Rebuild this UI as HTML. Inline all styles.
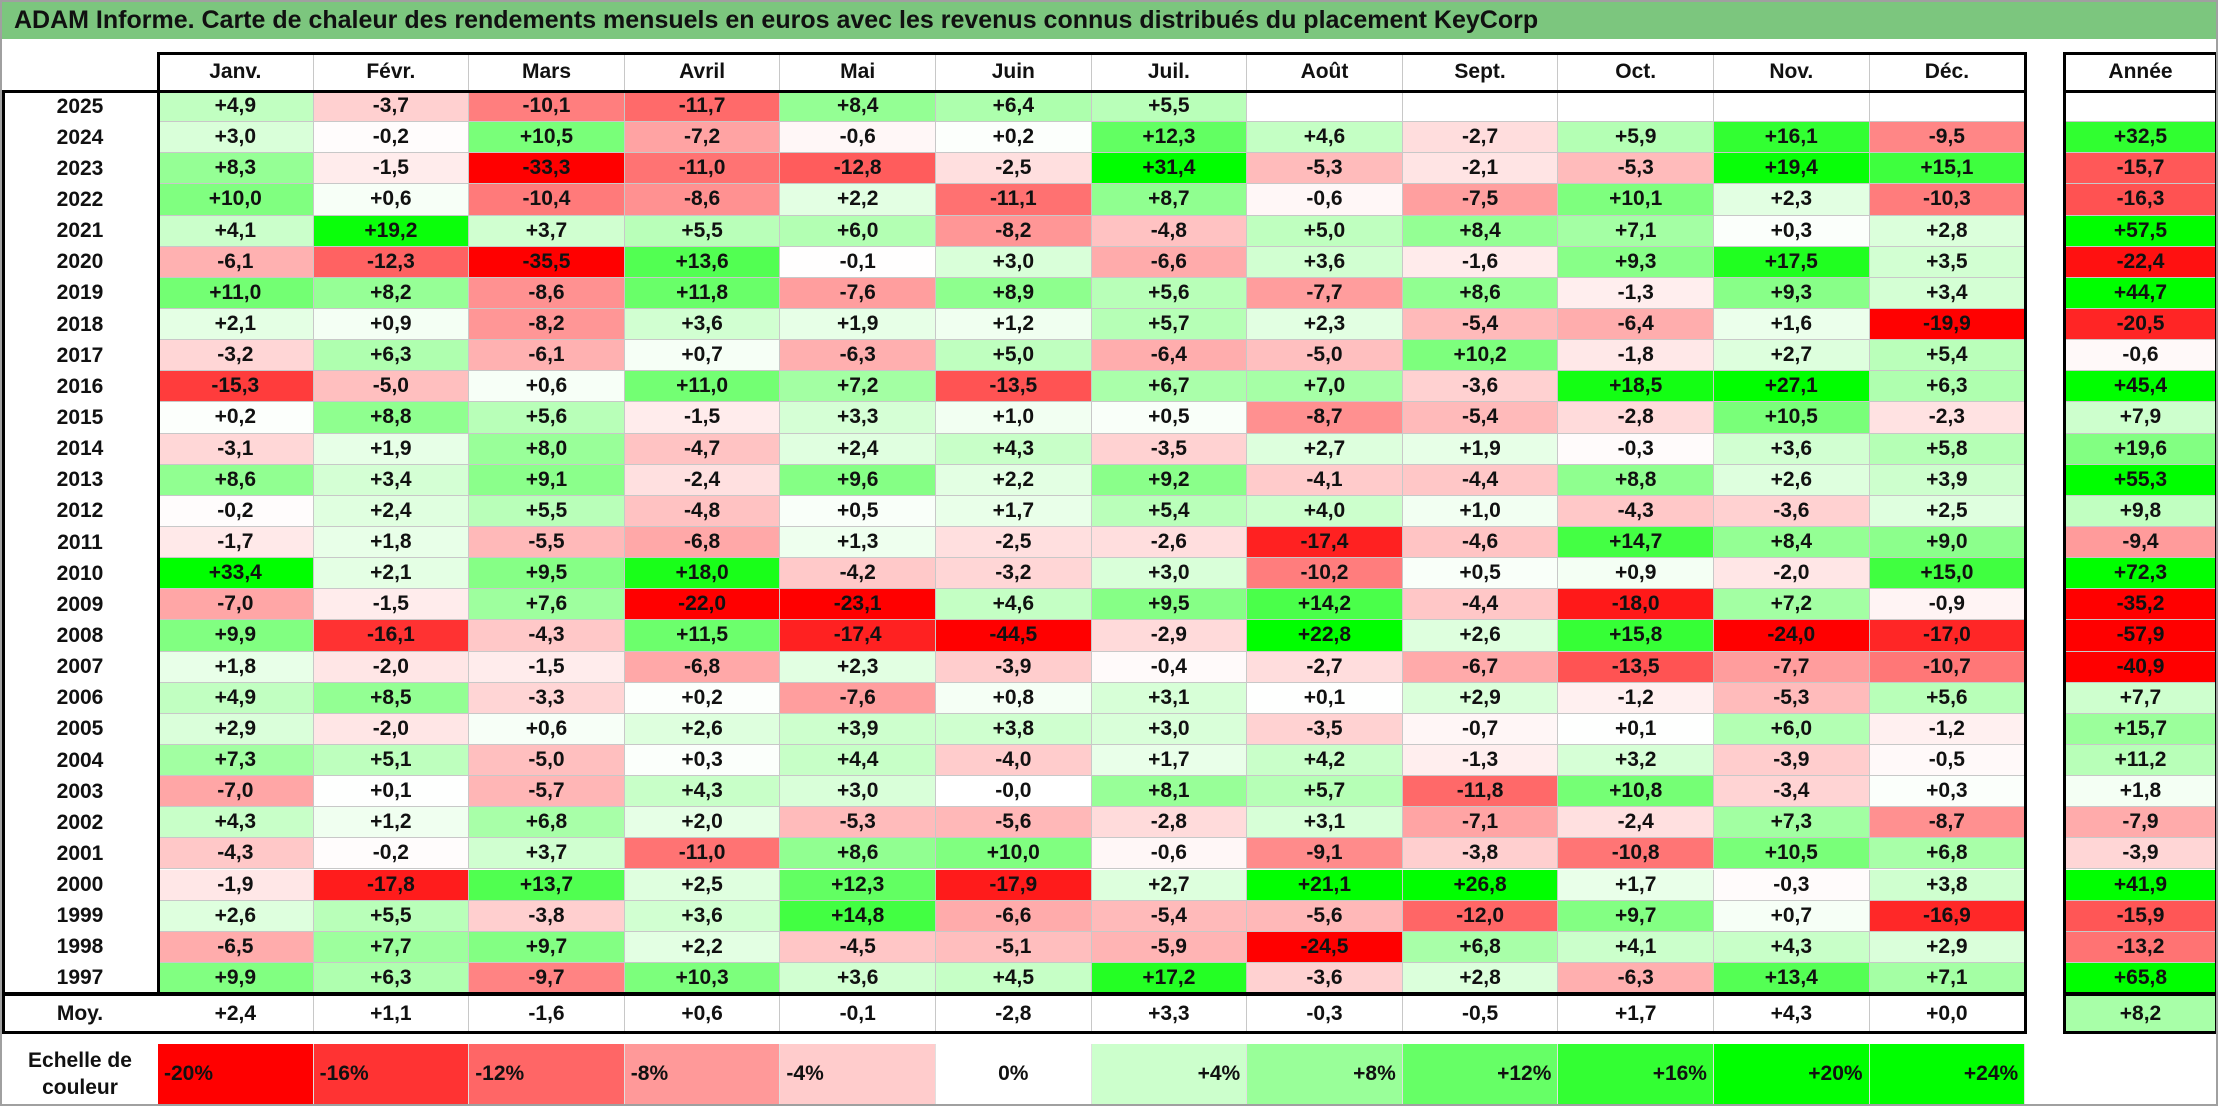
<!DOCTYPE html>
<html><head><meta charset="utf-8">
<style>
body{margin:0;background:#fff;}
#root{position:relative;width:2218px;height:1106px;overflow:hidden;font-family:"Liberation Sans",sans-serif;font-weight:bold;background:#fff;box-sizing:border-box;border:2px solid #a0a0a0;}
.c{position:absolute;box-sizing:border-box;display:flex;align-items:center;justify-content:center;font-size:21px;color:#111;}
#title{position:absolute;left:0;top:0;width:2214px;height:37px;background:#7cc67e;font-size:25px;line-height:37px;padding-left:12px;box-sizing:border-box;color:#111;}
</style></head><body>
<div id="root">
<div id="title">ADAM Informe. Carte de chaleur des rendements mensuels en euros avec les revenus connus distribués du placement KeyCorp</div>
</div>
<script>
const months=["Janv.","Févr.","Mars","Avril","Mai","Juin","Juil.","Août","Sept.","Oct.","Nov.","Déc."];
const years=[2025,2024,2023,2022,2021,2020,2019,2018,2017,2016,2015,2014,2013,2012,2011,2010,2009,2008,2007,2006,2005,2004,2003,2002,2001,2000,1999,1998,1997];
const monthly=[
[4.9,-3.7,-10.1,-11.7,8.4,6.4,5.5,null,null,null,null,null],
[3.0,-0.2,10.5,-7.2,-0.6,0.2,12.3,4.6,-2.7,5.9,16.1,-9.5],
[8.3,-1.5,-33.3,-11.0,-12.8,-2.5,31.4,-5.3,-2.1,-5.3,19.4,15.1],
[10.0,0.6,-10.4,-8.6,2.2,-11.1,8.7,-0.6,-7.5,10.1,2.3,-10.3],
[4.1,19.2,3.7,5.5,6.0,-8.2,-4.8,5.0,8.4,7.1,0.3,2.8],
[-6.1,-12.3,-35.5,13.6,-0.1,3.0,-6.6,3.6,-1.6,9.3,17.5,3.5],
[11.0,8.2,-8.6,11.8,-7.6,8.9,5.6,-7.7,8.6,-1.3,9.3,3.4],
[2.1,0.9,-8.2,3.6,1.9,1.2,5.7,2.3,-5.4,-6.4,1.6,-19.9],
[-3.2,6.3,-6.1,0.7,-6.3,5.0,-6.4,-5.0,10.2,-1.8,2.7,5.4],
[-15.3,-5.0,0.6,11.0,7.2,-13.5,6.7,7.0,-3.6,18.5,27.1,6.3],
[0.2,8.8,5.6,-1.5,3.3,1.0,0.5,-8.7,-5.4,-2.8,10.5,-2.3],
[-3.1,1.9,8.0,-4.7,2.4,4.3,-3.5,2.7,1.9,-0.3,3.6,5.8],
[8.6,3.4,9.1,-2.4,9.6,2.2,9.2,-4.1,-4.4,8.8,2.6,3.9],
[-0.2,2.4,5.5,-4.8,0.5,1.7,5.4,4.0,1.0,-4.3,-3.6,2.5],
[-1.7,1.8,-5.5,-6.8,1.3,-2.5,-2.6,-17.4,-4.6,14.7,8.4,9.0],
[33.4,2.1,9.5,18.0,-4.2,-3.2,3.0,-10.2,0.5,0.9,-2.0,15.0],
[-7.0,-1.5,7.6,-22.0,-23.1,4.6,9.5,14.2,-4.4,-18.0,7.2,-0.9],
[9.9,-16.1,-4.3,11.5,-17.4,-44.5,-2.9,22.8,2.6,15.8,-24.0,-17.0],
[1.8,-2.0,-1.5,-6.8,2.3,-3.9,-0.4,-2.7,-6.7,-13.5,-7.7,-10.7],
[4.9,8.5,-3.3,0.2,-7.6,0.8,3.1,0.1,2.9,-1.2,-5.3,5.6],
[2.9,-2.0,0.6,2.6,3.9,3.8,3.0,-3.5,-0.7,0.1,6.0,-1.2],
[7.3,5.1,-5.0,0.3,4.4,-4.0,1.7,4.2,-1.3,3.2,-3.9,-0.5],
[-7.0,0.1,-5.7,4.3,3.0,-0.0,8.1,5.7,-11.8,10.8,-3.4,0.3],
[4.3,1.2,6.8,2.0,-5.3,-5.6,-2.8,3.1,-7.1,-2.4,7.3,-8.7],
[-4.3,-0.2,3.7,-11.0,8.6,10.0,-0.6,-9.1,-3.8,-10.8,10.5,6.8],
[-1.9,-17.8,13.7,2.5,12.3,-17.9,2.7,21.1,26.8,1.7,-0.3,3.8],
[2.6,5.5,-3.8,3.6,14.8,-6.6,-5.4,-5.6,-12.0,9.7,0.7,-16.9],
[-6.5,7.7,9.7,2.2,-4.5,-5.1,-5.9,-24.5,6.8,4.1,4.3,2.9],
[9.9,6.3,-9.7,10.3,3.6,4.5,17.2,-3.6,2.8,-6.3,13.4,7.1]];
const annual=[null,32.5,-15.7,-16.3,57.5,-22.4,44.7,-20.5,-0.6,45.4,7.9,19.6,55.3,9.8,-9.4,72.3,-35.2,-57.9,-40.9,7.7,15.7,11.2,1.8,-7.9,-3.9,41.9,-15.9,-13.2,65.8];
const averages=[2.4,1.1,-1.6,0.6,-0.1,-2.8,3.3,-0.3,-0.5,1.7,4.3,0.0];
const averageYear=8.2;
const scaleTicks=[-20,-16,-12,-8,-4,0,4,8,12,16,20,24];

const root=document.getElementById('root');
const X0=156,CW=155.6,AX=2061,AW=155,HT=50,RT=89,RH=31.14,MT=992,MB=1031,ST=1042,SB=1102;
function col(v,neg,pos){
  if(v===null)return '#ffffff';
  let t;
  if(v<0){t=Math.min(1,-v/neg);const g=Math.round(255*(1-t));return `rgb(255,${g},${g})`;}
  t=Math.min(1,v/pos);const r=Math.round(255*(1-t));return `rgb(${r},255,${r})`;
}
function fmt(v){
  if(v===null)return '';
  const s=Math.abs(v).toFixed(1).replace('.',',');
  return (v<0||Object.is(v,-0)?'-':'+')+s;
}
function cell(x,y,w,h,txt,bg,name,extra){
  const d=document.createElement('div');
  d.className='c';
  d.style.left=x+'px';d.style.top=y+'px';d.style.width=w+'px';d.style.height=h+'px';
  d.style.background=bg;
  if(extra)Object.assign(d.style,extra);
  d.textContent=txt;
  
  
  root.appendChild(d);
  return d;
}
const grid={borderRight:'1px solid #c8c8c8',borderBottom:'1px solid #c8c8c8'};
months.forEach((m,i)=>{
  cell(X0+i*CW,HT,CW,RT-HT,m,'#fff','month-header',{borderRight:'1px solid #c8c8c8'});
});
cell(AX,HT,AW,RT-HT,'Année','#fff','year-total-header');
years.forEach((y,r)=>{
  const top=RT+r*RH;
  cell(0,top,X0,RH,String(y),'#fff','year-label');
  monthly[r].forEach((v,i)=>{
    cell(X0+i*CW,top,CW,RH,fmt(v),col(v,20,20),'heatmap-cell',grid);
  });
  cell(AX,top,AW,RH,fmt(annual[r]),col(annual[r],24,40),'annual-cell',{borderBottom:'1px solid #c8c8c8'});
});
cell(0,MT,X0,MB-MT,'Moy.','#fff','average-label');
averages.forEach((v,i)=>{
  cell(X0+i*CW,MT,CW,MB-MT,fmt(v),'#fff','average-cell',{borderRight:'1px solid #c8c8c8'});
});
cell(AX,MT,AW,MB-MT,fmt(averageYear),col(averageYear,24,24),'average-year-cell');
const lab=cell(0,ST,X0,SB-ST,'','#fff','color-scale-label',{flexDirection:'column',fontSize:'21px',lineHeight:'27px'});
lab.innerHTML='<span>Echelle de</span><span>couleur</span>';
scaleTicks.forEach((v,i)=>{
  const txt=(v>0?'+':'')+v+'%';
  const jc=v<0?'flex-start':(v===0?'center':'flex-end');
  cell(X0+i*CW,ST,CW,SB-ST,txt,col(v,20,20),'color-scale-swatch',{justifyContent:jc,padding:'0 6px',borderRight:'1px solid #e0e0e0'});
});
function frame(x,y,w,h,name){
  const d=document.createElement('div');
  d.style.cssText=`position:absolute;left:${x}px;top:${y}px;width:${w}px;height:${h}px;border:3px solid #000;box-sizing:border-box;pointer-events:none;`;
  
  
  root.appendChild(d);
}
frame(X0-1,HT,12*CW+3,RT-HT+2,'header-frame');
frame(0,RT-1,X0+12*CW+2,MT-RT+2,'body-frame');
frame(X0-1,RT-1,12*CW+3,MT-RT+2,'data-frame');
frame(0,MT-1,X0+12*CW+2,MB-MT+2,'average-frame');
frame(AX,HT,AW,RT-HT+2,'annual-header-frame');
frame(AX,RT-1,AW,MT-RT+2,'annual-frame');
frame(AX,MT-1,AW,MB-MT+2,'annual-average-frame');
</script>
</body></html>
